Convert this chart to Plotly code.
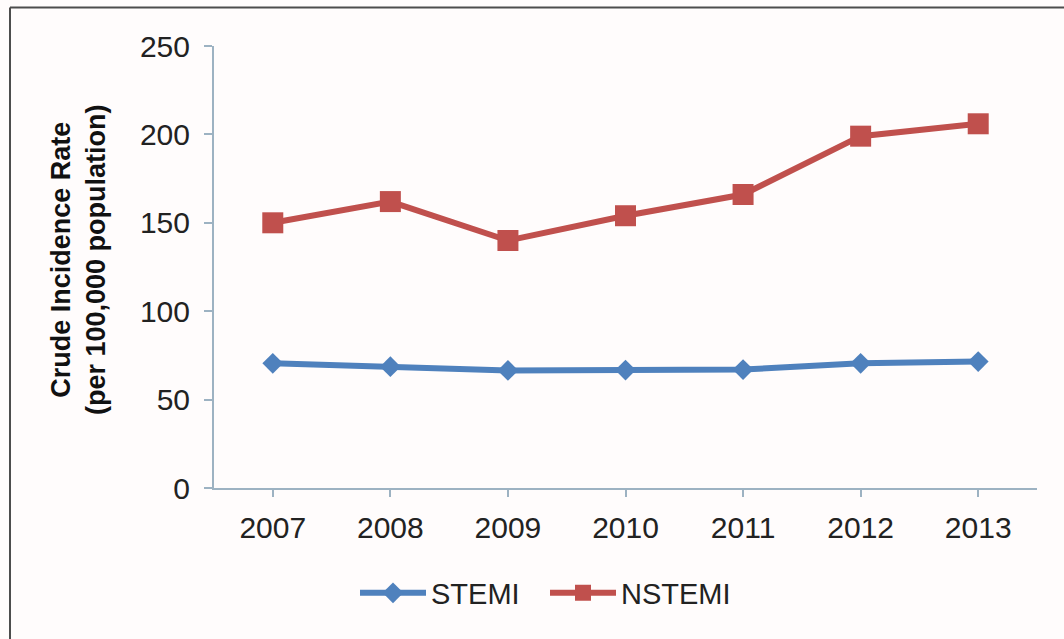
import plotly.graph_objects as go

years = ["2007", "2008", "2009", "2010", "2011", "2012", "2013"]
stemi = [70.5, 68.6, 66.5, 66.7, 67.0, 70.5, 71.5]
nstemi = [150, 162, 140, 154, 166, 199, 206]
y_ticks = [0, 50, 100, 150, 200, 250]

FONT = "Arial, Liberation Sans, sans-serif"
BLUE = "#4f81bd"
RED = "#c0504d"
AXIS = "#9db2c2"

# plot area in pixels
L, R, T, B = 214, 1037, 46, 488
W, H = 1064, 639

def px_x(px):
    return (px - L) / (R - L)

def px_y(py):
    return (B - py) / (B - T)

fig = go.Figure()
fig.add_trace(go.Scatter(
    x=years, y=stemi, name="STEMI", mode="lines+markers",
    line=dict(color=BLUE, width=6),
    marker=dict(symbol="diamond", size=16, color=BLUE),
))
fig.add_trace(go.Scatter(
    x=years, y=nstemi, name="NSTEMI", mode="lines+markers",
    line=dict(color=RED, width=6),
    marker=dict(symbol="square", size=21, color=RED),
))

fig.update_layout(
    width=W, height=H,
    margin=dict(l=L, r=W - R, t=T, b=H - B),
    paper_bgcolor="#fffcfc",
    plot_bgcolor="#fffcfc",
    font=dict(family=FONT, size=30, color="#222222"),
    showlegend=True,
    legend=dict(
        orientation="h", x=px_x(545), xanchor="center",
        y=px_y(593), yanchor="middle",
        itemwidth=66, entrywidth=109,
        font=dict(size=29, color="#222222"),
        bgcolor="rgba(0,0,0,0)",
    ),
    xaxis=dict(
        type="category", range=[-0.5, 6.5],
        showline=True, linecolor=AXIS, linewidth=2,
        ticks="outside", ticklen=7, tickcolor=AXIS, tickwidth=2,
        showgrid=False, zeroline=False,
        ticklabelstandoff=5,
        tickfont=dict(size=30, color="#222222"),
    ),
    yaxis=dict(
        range=[0, 250], tickvals=y_ticks,
        showline=True, linecolor=AXIS, linewidth=2,
        ticks="outside", ticklen=8, tickcolor=AXIS, tickwidth=2,
        showgrid=False, zeroline=False,
        ticklabelstandoff=8,
        tickfont=dict(size=30, color="#222222"),
    ),
    annotations=[dict(
        text="<b>Crude Incidence Rate<br>(per 100,000 population)</b>",
        textangle=-90, xref="paper", yref="paper",
        x=px_x(78), y=px_y(260), xanchor="center", yanchor="middle",
        showarrow=False, font=dict(size=27, color="#111111"),
    )],
    shapes=[
        dict(type="line", xref="paper", yref="paper",
             x0=px_x(10), y0=px_y(7.5), x1=px_x(1070), y1=px_y(7.5),
             line=dict(color="#4d4d4d", width=2)),
        dict(type="line", xref="paper", yref="paper",
             x0=px_x(10), y0=px_y(7.5), x1=px_x(10), y1=px_y(645),
             line=dict(color="#4d4d4d", width=2)),
    ],
)

fig.write_html("out.html")
